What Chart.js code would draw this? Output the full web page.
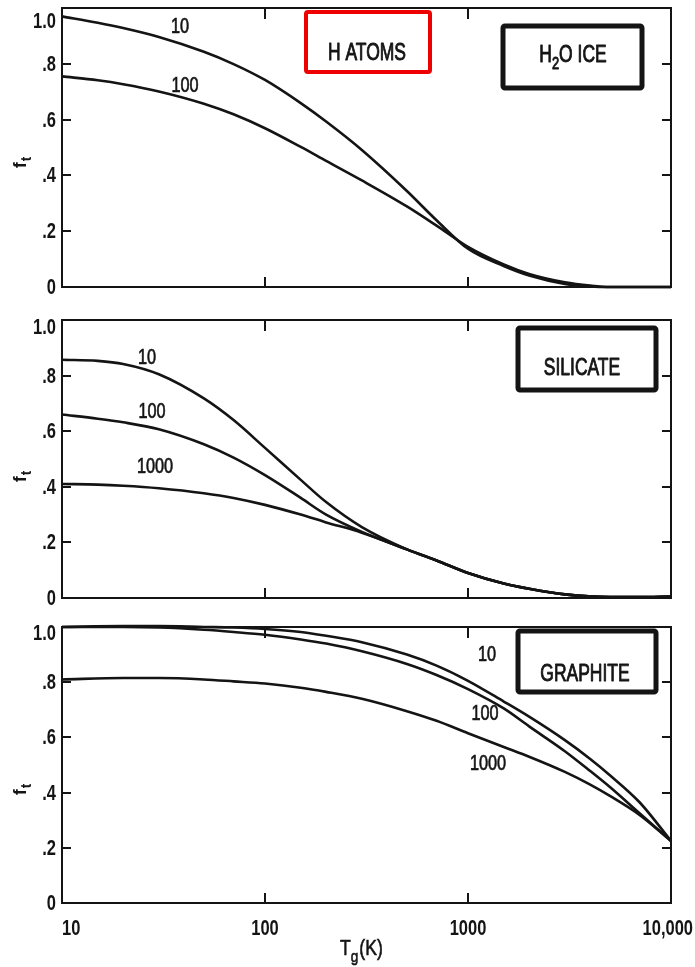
<!DOCTYPE html>
<html>
<head>
<meta charset="utf-8">
<script src="https://cdn.jsdelivr.net/npm/chart.js@4.4.0/dist/chart.umd.min.js"></script>
<style>
  html, body { margin: 0; padding: 0; background: #fff; }
  #wrap { position: relative; width: 695px; height: 967px; overflow: hidden; }
  #wrap canvas { position: absolute; left: 0; }
</style>
</head>
<body>
<div id="wrap">
  <canvas id="ice" width="695" height="300" style="top:0px"></canvas>
  <canvas id="sil" width="695" height="310" style="top:300px"></canvas>
  <canvas id="gra" width="695" height="357" style="top:610px"></canvas>
</div>
<script>
// f_t versus gas temperature T_g, one panel per grain type, curves labelled by density
const densities = ['10', '100', '1000'];

const yTickValues = [0, 0.2, 0.4, 0.6, 0.8, 1.0];
const yTickLabels = ['0', '.2', '.4', '.6', '.8', '1.0'];
const xTickValues = [10, 100, 1000, 10000];
const xTickLabels = ['10', '100', '1000', '10,000'];

// H2O ice
const iceTemps  = [10, 15, 20, 30, 50, 70, 100, 150, 200, 300, 500, 700, 1000, 1500, 2000, 3000, 4000, 5000, 10000];
const ice10     = [0.97, 0.947, 0.928, 0.896, 0.843, 0.799, 0.742, 0.659, 0.593, 0.491, 0.344, 0.239, 0.137, 0.075, 0.041, 0.011, 0.002, 0, 0];
const ice100    = [0.755, 0.741, 0.727, 0.701, 0.657, 0.619, 0.569, 0.502, 0.452, 0.382, 0.289, 0.220, 0.144, 0.081, 0.047, 0.017, 0.005, 0, 0];

// silicate
const silTemps  = [10, 15, 20, 30, 50, 70, 100, 150, 200, 300, 500, 700, 1000, 1500, 2000, 3000, 5000, 7000, 10000];
const sil10     = [0.857, 0.853, 0.842, 0.805, 0.718, 0.64, 0.54, 0.425, 0.345, 0.255, 0.175, 0.135, 0.09, 0.052, 0.033, 0.013, 0.003, 0.003, 0.005];
const sil100    = [0.66, 0.645, 0.632, 0.607, 0.553, 0.505, 0.442, 0.36, 0.30, 0.238, 0.175, 0.135, 0.09, 0.052, 0.033, 0.013, 0.003, 0.003, 0.005];
const sil1000   = [0.41, 0.408, 0.404, 0.395, 0.377, 0.36, 0.335, 0.30, 0.272, 0.235, 0.175, 0.135, 0.09, 0.052, 0.033, 0.013, 0.003, 0.003, 0.005];

// graphite
const graTemps  = [10, 20, 30, 50, 70, 100, 150, 200, 300, 500, 700, 1000, 1500, 2000, 3000, 4000, 5000, 7000, 10000];
const gra10     = [1.0, 1.003, 1.003, 1.0, 0.998, 0.993, 0.982, 0.968, 0.945, 0.90, 0.86, 0.805, 0.73, 0.675, 0.59, 0.522, 0.463, 0.365, 0.225];
const gra100    = [1.0, 1.0, 0.998, 0.99, 0.982, 0.972, 0.955, 0.94, 0.912, 0.866, 0.826, 0.775, 0.705, 0.64, 0.55, 0.478, 0.42, 0.325, 0.225];
const gra1000   = [0.81, 0.815, 0.815, 0.81, 0.803, 0.795, 0.78, 0.765, 0.74, 0.695, 0.66, 0.615, 0.565, 0.53, 0.475, 0.429, 0.388, 0.319, 0.225];

const FONT = '"Liberation Sans", Arial, sans-serif';
const INK = '#141414';

// condensed lettering: draw with a horizontal squeeze
function squeezed(ctx, text, x, y, font, align, sx, thicken) {
  ctx.save();
  ctx.font = font;
  ctx.textAlign = align;
  ctx.translate(x, y);
  ctx.scale(sx, 1);
  ctx.fillText(text, 0, 0);
  if (thicken) {
    ctx.lineWidth = thicken;
    ctx.strokeStyle = ctx.fillStyle;
    ctx.strokeText(text, 0, 0);
  }
  const w = ctx.measureText(text).width * sx;
  ctx.restore();
  return w;
}

// frame, inward ticks, tick labels, axis titles, curve labels and boxed captions
const decor = {
  id: 'decor',
  afterDraw(chart) {
    const o = chart.options.plugins.decor;
    const { ctx, chartArea: a, scales: { x, y } } = chart;
    ctx.save();
    ctx.strokeStyle = INK;
    ctx.fillStyle = INK;

    ctx.lineWidth = 2;
    ctx.strokeRect(a.left, a.top, a.right - a.left, a.bottom - a.top);

    ctx.beginPath();
    yTickValues.forEach(v => {
      if (v <= 0 || v >= 1) return;
      const py = Math.round(y.getPixelForValue(v));
      ctx.moveTo(a.left, py); ctx.lineTo(a.left + 9, py);
      ctx.moveTo(a.right, py); ctx.lineTo(a.right - 9, py);
    });
    xTickValues.forEach(v => {
      if (v <= 10 || v >= 10000) return;
      const px = Math.round(x.getPixelForValue(v));
      ctx.moveTo(px, a.bottom); ctx.lineTo(px, a.bottom - 10);
      ctx.moveTo(px, a.top); ctx.lineTo(px, a.top + 11);
    });
    ctx.stroke();

    // y tick labels
    const tickFont = 'bold 22px ' + FONT;
    ctx.textBaseline = 'middle';
    yTickValues.forEach((v, i) => {
      const py = y.getPixelForValue(v) + (v === 1 ? o.topShift : 0);
      squeezed(ctx, yTickLabels[i], a.left - 6, py + 1, tickFont, 'right', 0.75);
    });

    // x tick labels and title on the bottom panel only
    if (o.xLabels) {
      ctx.textBaseline = 'alphabetic';
      xTickValues.forEach((v, i) => {
        const px = x.getPixelForValue(v);
        if (i === 0) squeezed(ctx, xTickLabels[i], px, o.xLabelBase, tickFont, 'left', 0.75);
        else if (i === xTickValues.length - 1) squeezed(ctx, xTickLabels[i], px + 22, o.xLabelBase, tickFont, 'right', 0.75);
        else squeezed(ctx, xTickLabels[i], px, o.xLabelBase, tickFont, 'center', 0.75);
      });
      // T_g(K)
      let tx = 340;
      tx += squeezed(ctx, 'T', tx, o.xTitleBase, '22px ' + FONT, 'left', 0.8, 0.6);
      tx += squeezed(ctx, 'g', tx, o.xTitleBase + 7, '17px ' + FONT, 'left', 0.8, 0.6) + 1;
      squeezed(ctx, '(K)', tx, o.xTitleBase, '22px ' + FONT, 'left', 0.8, 0.6);
    }

    // y title f_t, rotated
    ctx.save();
    ctx.translate(26, o.titleY);
    ctx.rotate(-Math.PI / 2);
    ctx.textBaseline = 'alphabetic';
    const fw = squeezed(ctx, 'f', 0, 0, 'bold 19px ' + FONT, 'left', 0.9);
    squeezed(ctx, 't', fw + 1, 5, 'bold 15px ' + FONT, 'left', 0.9);
    ctx.restore();

    // density labels beside the curves
    ctx.textBaseline = 'middle';
    o.curveLabels.forEach(l => squeezed(ctx, l.text, l.x, l.y, '22px ' + FONT, 'center', 0.74, 0.7));

    // boxed captions
    o.boxes.forEach(b => {
      ctx.strokeStyle = b.color;
      ctx.lineWidth = b.lw;
      ctx.lineJoin = 'round';
      ctx.beginPath();
      ctx.roundRect(b.x, b.y, b.w, b.h, 2);
      ctx.stroke();
      ctx.fillStyle = INK;
      ctx.textBaseline = 'alphabetic';
      const big = '23px ' + FONT, small = '17px ' + FONT, sx = 0.76, th = 0.9;
      if (b.sub) {
        // chemical formula with a subscript
        ctx.font = big;
        const w0 = ctx.measureText(b.text[0]).width * sx;
        const w2 = ctx.measureText(b.text[1]).width * sx;
        ctx.font = small;
        const w1 = ctx.measureText(b.sub).width * sx;
        const tx = b.cx - (w0 + w1 + w2) / 2;
        squeezed(ctx, b.text[0], tx, b.base, big, 'left', sx, th);
        squeezed(ctx, b.sub, tx + w0, b.base + 7, small, 'left', sx, th);
        squeezed(ctx, b.text[1], tx + w0 + w1, b.base, big, 'left', sx, th);
      } else {
        squeezed(ctx, b.text, b.cx, b.base, big, 'center', sx, th);
      }
    });
    ctx.restore();
  }
};

function curve(temps, values) {
  return {
    data: temps.map((t, i) => ({ x: t, y: values[i] })),
    borderColor: INK,
    borderWidth: 2.6,
    pointRadius: 0,
    fill: false,
    cubicInterpolationMode: 'monotone',
    clip: false
  };
}

function panel(id, datasets, pad, deco) {
  return new Chart(document.getElementById(id), {
    type: 'line',
    data: { datasets },
    options: {
      responsive: false,
      animation: false,
      layout: { padding: pad },
      plugins: { legend: { display: false }, tooltip: { enabled: false }, decor: deco },
      scales: {
        x: { type: 'logarithmic', min: 10, max: 10000, display: false },
        y: { type: 'linear', min: 0, max: 1, display: false }
      }
    },
    plugins: [decor]
  });
}

panel('ice', [curve(iceTemps, ice10), curve(iceTemps, ice100)],
  { left: 62, right: 24, top: 8, bottom: 13 },
  {
    topShift: 13, titleY: 168,
    curveLabels: [
      { text: densities[0], x: 180, y: 27 },
      { text: densities[1], x: 185, y: 86 }
    ],
    boxes: [
      { text: 'H ATOMS', x: 306, y: 12, w: 124, h: 60, color: '#ee0000', lw: 4, cx: 367, base: 60 },
      { text: ['H', 'O ICE'], sub: '2', x: 503, y: 26, w: 139, h: 62, color: INK, lw: 5, cx: 573, base: 62 }
    ]
  });

panel('sil', [curve(silTemps, sil10), curve(silTemps, sil100), curve(silTemps, sil1000)],
  { left: 62, right: 24, top: 20, bottom: 12 },
  {
    topShift: 7, titleY: 182,
    curveLabels: [
      { text: densities[0], x: 147, y: 58 },
      { text: densities[1], x: 152, y: 112 },
      { text: densities[2], x: 155, y: 167 }
    ],
    boxes: [
      { text: 'SILICATE', x: 518, y: 28, w: 138, h: 62, color: INK, lw: 5, cx: 582, base: 75 }
    ]
  });

panel('gra', [curve(graTemps, gra10), curve(graTemps, gra100), curve(graTemps, gra1000)],
  { left: 62, right: 24, top: 17, bottom: 64 },
  {
    topShift: 6, titleY: 185, xLabels: true, xLabelBase: 325, xTitleBase: 345,
    curveLabels: [
      { text: densities[0], x: 487, y: 45 },
      { text: densities[1], x: 485, y: 104 },
      { text: densities[2], x: 488, y: 154 }
    ],
    boxes: [
      { text: 'GRAPHITE', x: 518, y: 21, w: 138, h: 61, color: INK, lw: 5, cx: 585, base: 71 }
    ]
  });
</script>
</body>
</html>
